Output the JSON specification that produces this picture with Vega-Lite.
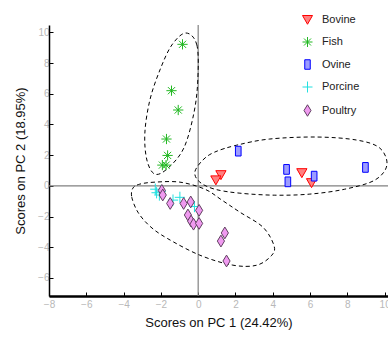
{
  "$schema": "https://vega.github.io/schema/vega-lite/v6.json",
  "width": 339,
  "height": 271,
  "autosize": {"type": "none"},
  "padding": {"left": 49, "top": 25, "right": 0, "bottom": 44},
  "config": {
    "view": {"stroke": null},
    "font": "Liberation Sans",
    "axis": {"grid": false, "labelFont": "Liberation Sans", "titleFont": "Liberation Sans", "labelColor": "#b8b8b8", "labelFontSize": 10, "titleFontSize": 13, "titleFontWeight": "normal", "titleColor": "#111", "domainColor": "#000", "tickColor": "#000", "tickSize": -4, "labelOverlap": false, "labelFlush": false, "labelBound": false}
  },
  "datasets": {
    "pts": [
      {"x": 1.22, "y": 0.72, "cls": "Bovine"},
      {"x": 0.95, "y": 0.38, "cls": "Bovine"},
      {"x": 5.56, "y": 0.85, "cls": "Bovine"},
      {"x": 6.08, "y": 0.2, "cls": "Bovine"},
      {"x": -0.84, "y": 9.22, "cls": "Fish"},
      {"x": -1.43, "y": 6.2, "cls": "Fish"},
      {"x": -1.07, "y": 4.94, "cls": "Fish"},
      {"x": -1.7, "y": 3.05, "cls": "Fish"},
      {"x": -1.64, "y": 1.98, "cls": "Fish"},
      {"x": -1.92, "y": 1.35, "cls": "Fish"},
      {"x": -1.72, "y": 1.35, "cls": "Fish"},
      {"x": 2.15, "y": 2.26, "cls": "Ovine"},
      {"x": 4.74, "y": 1.07, "cls": "Ovine"},
      {"x": 4.81, "y": 0.26, "cls": "Ovine"},
      {"x": 6.22, "y": 0.63, "cls": "Ovine"},
      {"x": 8.97, "y": 1.2, "cls": "Ovine"},
      {"x": -2.3, "y": -0.22, "cls": "Porcine"},
      {"x": -2.23, "y": -0.45, "cls": "Porcine"},
      {"x": -2.08, "y": -0.6, "cls": "Porcine"},
      {"x": -2.0, "y": -0.35, "cls": "Porcine"},
      {"x": -1.35, "y": -0.93, "cls": "Porcine"},
      {"x": -0.98, "y": -0.75, "cls": "Porcine"},
      {"x": -0.2, "y": -1.35, "cls": "Porcine"},
      {"x": -1.95, "y": -0.3, "cls": "Poultry"},
      {"x": -1.9, "y": -0.6, "cls": "Poultry"},
      {"x": -1.5, "y": -1.15, "cls": "Poultry"},
      {"x": -0.78, "y": -1.15, "cls": "Poultry"},
      {"x": -0.4, "y": -1.05, "cls": "Poultry"},
      {"x": -0.55, "y": -1.9, "cls": "Poultry"},
      {"x": -0.38, "y": -2.3, "cls": "Poultry"},
      {"x": -0.25, "y": -2.5, "cls": "Poultry"},
      {"x": 0.05, "y": -1.6, "cls": "Poultry"},
      {"x": 0.05, "y": -2.45, "cls": "Poultry"},
      {"x": 1.43, "y": -3.07, "cls": "Poultry"},
      {"x": 1.22, "y": -3.6, "cls": "Poultry"},
      {"x": 1.52, "y": -4.9, "cls": "Poultry"}
    ],
    "ell": [
      {"e": "A", "i": 1, "x": -0.66, "y": 9.96},
      {"e": "A", "i": 2, "x": -0.07, "y": 9.18},
      {"e": "A", "i": 3, "x": -0.02, "y": 6.9},
      {"e": "A", "i": 4, "x": -0.23, "y": 4.74},
      {"e": "A", "i": 5, "x": -0.77, "y": 2.46},
      {"e": "A", "i": 6, "x": -1.62, "y": 1.15},
      {"e": "A", "i": 7, "x": -2.32, "y": 0.76},
      {"e": "A", "i": 8, "x": -2.75, "y": 1.68},
      {"e": "A", "i": 9, "x": -2.86, "y": 3.43},
      {"e": "A", "i": 10, "x": -2.59, "y": 5.59},
      {"e": "A", "i": 11, "x": -2.05, "y": 7.55},
      {"e": "A", "i": 12, "x": -1.41, "y": 9.18},
      {"e": "B", "i": 1, "x": -0.18, "y": 0.89},
      {"e": "B", "i": 2, "x": 0.25, "y": 1.68},
      {"e": "B", "i": 3, "x": 0.89, "y": 2.2},
      {"e": "B", "i": 4, "x": 2.07, "y": 2.65},
      {"e": "B", "i": 5, "x": 3.84, "y": 3.05},
      {"e": "B", "i": 6, "x": 6.36, "y": 3.18},
      {"e": "B", "i": 7, "x": 8.51, "y": 2.98},
      {"e": "B", "i": 8, "x": 9.74, "y": 2.46},
      {"e": "B", "i": 9, "x": 10.12, "y": 1.35},
      {"e": "B", "i": 10, "x": 9.47, "y": 0.37},
      {"e": "B", "i": 11, "x": 7.86, "y": -0.22},
      {"e": "B", "i": 12, "x": 5.99, "y": -0.54},
      {"e": "B", "i": 13, "x": 4.11, "y": -0.61},
      {"e": "B", "i": 14, "x": 2.24, "y": -0.48},
      {"e": "B", "i": 15, "x": 0.89, "y": -0.22},
      {"e": "B", "i": 16, "x": 0.09, "y": 0.24},
      {"e": "C", "i": 1, "x": -3.5, "y": -0.15},
      {"e": "C", "i": 2, "x": -3.56, "y": -0.74},
      {"e": "C", "i": 3, "x": -3.23, "y": -1.72},
      {"e": "C", "i": 4, "x": -2.59, "y": -2.63},
      {"e": "C", "i": 5, "x": -1.68, "y": -3.41},
      {"e": "C", "i": 6, "x": 0.09, "y": -4.52},
      {"e": "C", "i": 7, "x": 1.86, "y": -5.17},
      {"e": "C", "i": 8, "x": 3.15, "y": -5.17},
      {"e": "C", "i": 9, "x": 3.95, "y": -4.52},
      {"e": "C", "i": 10, "x": 4.06, "y": -3.87},
      {"e": "C", "i": 11, "x": 3.47, "y": -2.69},
      {"e": "C", "i": 12, "x": 2.24, "y": -1.72},
      {"e": "C", "i": 13, "x": 1.27, "y": -0.93},
      {"e": "C", "i": 14, "x": 0.36, "y": -0.22},
      {"e": "C", "i": 15, "x": -0.98, "y": 0.24},
      {"e": "C", "i": 16, "x": -2.32, "y": 0.24},
      {"e": "C", "i": 17, "x": -3.13, "y": 0.11}
    ],
    "zx": [{"v": 0}],
    "zy": [{"v": 0}]
  },
  "layer": [
    {
      "data": {"name": "zx"},
      "mark": {"type": "rule", "color": "#808080", "strokeWidth": 1.2},
      "encoding": {"x": {"field": "v", "type": "quantitative", "scale": {"domain": [-8, 10.18], "nice": false, "zero": false}, "axis": {"title": "Scores on PC 1 (24.42%)", "values": [-8, -6, -4, -2, 0, 2, 4, 6, 8, 10], "domainWidth": 2.5, "labelPadding": 7, "titlePadding": 7}}}
    },
    {
      "data": {"name": "zy"},
      "mark": {"type": "rule", "color": "#808080", "strokeWidth": 1.2},
      "encoding": {"y": {"field": "v", "type": "quantitative", "scale": {"domain": [-7.18, 10.48], "nice": false, "zero": false}, "axis": {"title": "Scores on PC 2 (18.95%)", "values": [-6, -4, -2, 0, 2, 4, 6, 8, 10], "domainWidth": 1.5, "labelPadding": 4, "titlePadding": 10}}}
    },
    {
      "data": {"name": "ell"},
      "mark": {"type": "line", "interpolate": "cardinal-closed", "color": "#000", "strokeWidth": 1, "strokeDash": [4, 3], "clip": true},
      "encoding": {
        "x": {"field": "x", "type": "quantitative", "axis": {"title": "Scores on PC 1 (24.42%)", "values": [-8, -6, -4, -2, 0, 2, 4, 6, 8, 10], "domainWidth": 2.5, "labelPadding": 7, "titlePadding": 7}},
        "y": {"field": "y", "type": "quantitative", "axis": {"title": "Scores on PC 2 (18.95%)", "values": [-6, -4, -2, 0, 2, 4, 6, 8, 10], "domainWidth": 1.5, "labelPadding": 4, "titlePadding": 10}},
        "detail": {"field": "e"},
        "order": {"field": "i", "type": "quantitative"}
      }
    },
    {
      "data": {"name": "pts"},
      "mark": {"type": "point", "filled": false, "strokeWidth": 1, "opacity": 1, "size": 105},
      "encoding": {
        "x": {"field": "x", "type": "quantitative", "axis": {"title": "Scores on PC 1 (24.42%)", "values": [-8, -6, -4, -2, 0, 2, 4, 6, 8, 10], "domainWidth": 2.5, "labelPadding": 7, "titlePadding": 7}},
        "y": {"field": "y", "type": "quantitative", "axis": {"title": "Scores on PC 2 (18.95%)", "values": [-6, -4, -2, 0, 2, 4, 6, 8, 10], "domainWidth": 1.5, "labelPadding": 4, "titlePadding": 10}},
        "shape": {"field": "cls", "type": "nominal", "scale": {"domain": ["Bovine", "Fish", "Ovine", "Porcine", "Poultry"], "range": ["M-1,-0.8L1,-0.8L0,0.95Z", "M-1,0L1,0M0,-1L0,1M-0.7,-0.7L0.7,0.7M-0.7,0.7L0.7,-0.7", "M-0.55,-0.95L0.55,-0.95L0.55,0.95L-0.55,0.95Z", "M-1,0L1,0M0,-1.1L0,1.1", "M0,-1.15L0.7,0L0,1.15L-0.7,0Z"]}, "legend": {"title": null, "orient": "none", "legendX": 253, "legendY": -11, "padding": 0, "rowPadding": 7.5, "labelOffset": 9, "labelFontSize": 11, "labelColor": "#222", "symbolSize": 100, "symbolStrokeWidth": 1}},
        "fill": {"field": "cls", "type": "nominal", "scale": {"domain": ["Bovine", "Fish", "Ovine", "Porcine", "Poultry"], "range": ["#ff8080", "transparent", "#9c9cff", "transparent", "#f09af0"]}, "legend": {"title": null, "orient": "none", "legendX": 253, "legendY": -11, "padding": 0, "rowPadding": 7.5, "labelOffset": 9, "labelFontSize": 11, "labelColor": "#222", "symbolSize": 100, "symbolStrokeWidth": 1}},
        "stroke": {"field": "cls", "type": "nominal", "scale": {"domain": ["Bovine", "Fish", "Ovine", "Porcine", "Poultry"], "range": ["#ff0000", "#22b822", "#0000ff", "#22e0e0", "#604060"]}, "legend": {"title": null, "orient": "none", "legendX": 253, "legendY": -11, "padding": 0, "rowPadding": 7.5, "labelOffset": 9, "labelFontSize": 11, "labelColor": "#222", "symbolSize": 100, "symbolStrokeWidth": 1}}
      }
    }
  ]
}
